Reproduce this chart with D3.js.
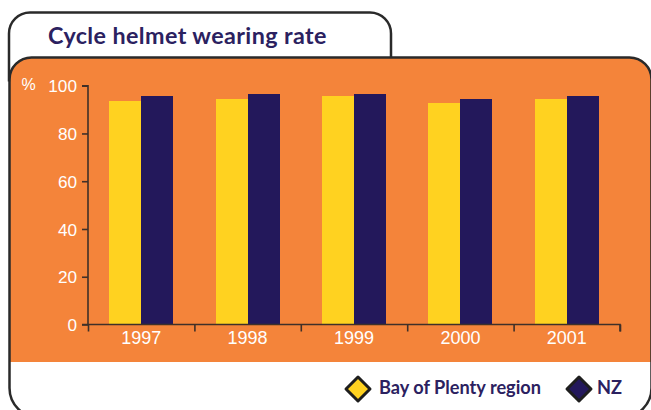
<!DOCTYPE html>
<html>
<head>
<meta charset="utf-8">
<script src="https://cdn.jsdelivr.net/npm/d3@7"></script>
<style>
  html, body { margin: 0; padding: 0; background: #ffffff; }
  svg { display: block; }
</style>
</head>
<body>
<svg id="chart" width="651" height="410"></svg>
<script>
// ---- Data ----
const title = "Cycle helmet wearing rate";
const years = ["1997", "1998", "1999", "2000", "2001"];
const seriesNames = ["Bay of Plenty region", "NZ"];
const bopValues = [93.7, 94.5, 95.8, 92.9, 94.5];
const nzValues  = [95.8, 96.6, 96.6, 94.5, 95.8];
const yTicks = [0, 20, 40, 60, 80, 100];
const yUnit = "%";

// ---- Styles ----
const orange = "#F4843A";
const yellow = "#FFD220";
const navy = "#23185B";
const frame = "#2a2a2a";
const axisCol = "#3f3029";
const textNavy = "#2b2160";
const fontStack = "Lato, 'Open Sans', 'Noto Sans', sans-serif";
const numFont = "'Liberation Sans', Arial, sans-serif";

const svg = d3.select("#chart");

// Orange panel (rounded top corners)
const pL = 9.5, pT = 57.5, pR = 651.5, pB = 362, rTL = 22, rTR = 22;
svg.append("path")
  .attr("d", `M${pL},${pB} V${pT + rTL} A${rTL},${rTL} 0 0 1 ${pL + rTL},${pT} H${pR - rTR} A${rTR},${rTR} 0 0 1 ${pR},${pT + rTR} V${pB} Z`)
  .attr("fill", orange);

// Panel outline
const oB = 417.5, rB = 29.5;
svg.append("path")
  .attr("d", `M${pL},${pT + rTL} A${rTL},${rTL} 0 0 1 ${pL + rTL},${pT} H${pR - rTR} A${rTR},${rTR} 0 0 1 ${pR},${pT + rTR} V${oB - rB} A${rB},${rB} 0 0 1 ${pR - rB},${oB} H${pL + rB} A${rB},${rB} 0 0 1 ${pL},${oB - rB} Z`)
  .attr("fill", "none").attr("stroke", frame).attr("stroke-width", 2.5);

// Title tab outline
const tL = 9, tT = 12.5, tR = 391, rT = 21;
svg.append("path")
  .attr("d", `M${tL},${pT + rTL + 2} V${tT + rT} A${rT},${rT} 0 0 1 ${tL + rT},${tT} H${tR - rT} A${rT},${rT} 0 0 1 ${tR},${tT + rT} V${pT}`)
  .attr("fill", "none").attr("stroke", frame).attr("stroke-width", 2.5);

// Helper: fit font-size so text spans a target width
function fitWidth(sel, target) {
  const node = sel.node();
  const fs = parseFloat(sel.attr("font-size"));
  const w = node.getComputedTextLength();
  if (w > 0) sel.attr("font-size", (fs * target / w).toFixed(2));
}

// Title
const t = svg.append("text")
  .attr("x", 48).attr("y", 43.5)
  .attr("font-family", fontStack).attr("font-weight", 700)
  .attr("font-size", 23).attr("fill", textNavy)
  .attr("letter-spacing", 0.4)
  .text(title);
fitWidth(t, 279);

// ---- Scales ----
const x0 = d3.scaleBand().domain(years).range([88, 620]).paddingInner(0).paddingOuter(0);
const x1 = d3.scaleBand().domain(seriesNames).range([0, x0.bandwidth()]).paddingInner(0).paddingOuter(0.6625);
const y = d3.scaleLinear().domain([0, 100]).range([324.5, 85.7]);
const color = d3.scaleOrdinal().domain(seriesNames).range([yellow, navy]);

const rows = years.map((yr, i) => ({ year: yr, values: [
  { name: seriesNames[0], value: bopValues[i] },
  { name: seriesNames[1], value: nzValues[i] }
]}));

// Bars
const g = svg.append("g");
g.selectAll("g.grp").data(rows).join("g")
  .attr("class", "grp")
  .attr("transform", d => `translate(${x0(d.year)},0)`)
  .selectAll("rect").data(d => d.values).join("rect")
  .attr("x", d => x1(d.name))
  .attr("width", x1.bandwidth())
  .attr("y", d => y(d.value))
  .attr("height", d => y(0) - y(d.value))
  .attr("fill", d => color(d.name))
  .attr("shape-rendering", "crispEdges");

// Y axis
const yAxis = svg.append("g")
  .attr("transform", "translate(88,0)")
  .call(d3.axisLeft(y).tickValues(yTicks).tickSize(6).tickPadding(5).tickFormat(d3.format("d")));
yAxis.select(".domain").attr("stroke", axisCol).attr("stroke-width", 1.6)
  .attr("d", `M-6,${y(100)}H0V${y(0)}`);
yAxis.selectAll(".tick line").attr("stroke", axisCol).attr("stroke-width", 1.6);
yAxis.selectAll(".tick text")
  .attr("fill", "#ffffff").attr("font-family", numFont).attr("font-size", 17.2)
  .attr("dy", "0.36em");

// Unit label
svg.append("text")
  .attr("x", 21.5).attr("y", 90)
  .attr("font-family", numFont).attr("font-size", 16)
  .attr("fill", "#ffffff").text(yUnit);

// X axis: boundary ticks via index scale
const xi = d3.scaleLinear().domain([0, years.length]).range([88, 620]);
const xAxisTicks = svg.append("g")
  .attr("transform", `translate(0,${y(0)})`)
  .call(d3.axisBottom(xi).ticks(years.length).tickSize(7).tickFormat(""));
xAxisTicks.select(".domain").attr("stroke", axisCol).attr("stroke-width", 1.6)
  .attr("d", `M82,0H620V7`);
xAxisTicks.selectAll(".tick line").attr("stroke", axisCol).attr("stroke-width", 1.6);

// X labels via band axis
const xAxis = svg.append("g")
  .attr("transform", `translate(0,${y(0)})`)
  .call(d3.axisBottom(x0).tickSize(0).tickPadding(7));
xAxis.select(".domain").remove();
xAxis.selectAll(".tick text")
  .attr("fill", "#ffffff").attr("font-family", numFont).attr("font-size", 18)
  .attr("dy", "0.71em");

// Legend
const legendItems = [
  { name: seriesNames[0], cx: 358, tx: 379, w: 162 },
  { name: seriesNames[1], cx: 579, tx: 597, w: 25 }
];
const lg = svg.append("g");
legendItems.forEach(it => {
  const s = 12;
  lg.append("path")
    .attr("d", `M${it.cx},${389 - s} L${it.cx + s},389 L${it.cx},${389 + s} L${it.cx - s},389 Z`)
    .attr("fill", color(it.name)).attr("stroke", "#1e1e1e").attr("stroke-width", 3)
    .attr("stroke-linejoin", "round");
  const tt = lg.append("text")
    .attr("x", it.tx).attr("y", 393.5)
    .attr("font-family", fontStack).attr("font-weight", 700)
    .attr("font-size", 18).attr("fill", textNavy)
    .text(it.name);
  fitWidth(tt, it.w);
});
</script>
</body>
</html>
